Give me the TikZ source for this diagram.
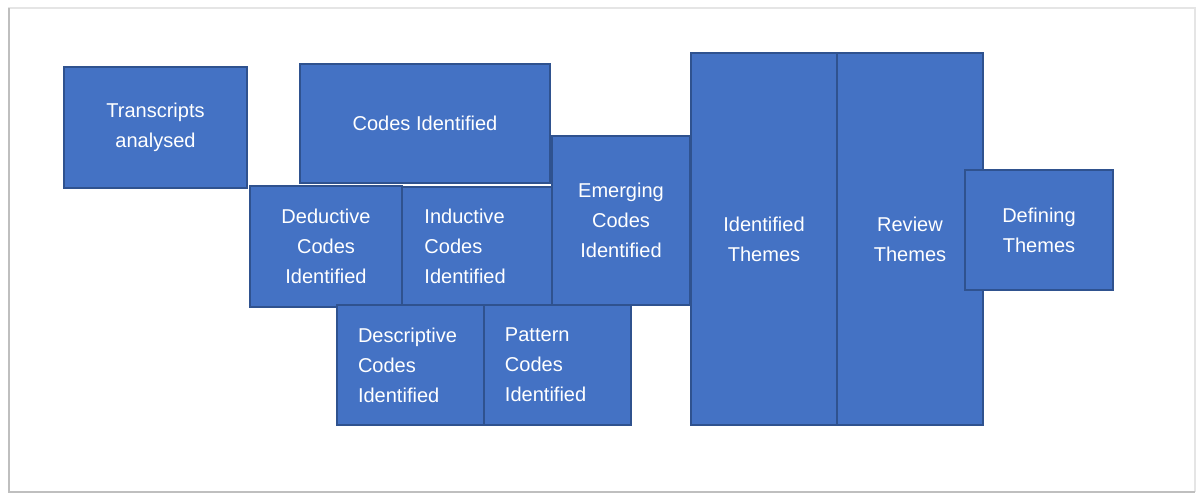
\documentclass[tikz,border=0pt]{standalone}
\usepackage{fontspec}
\setmainfont{Liberation Sans}
\usepackage{xcolor}
\usetikzlibrary{positioning}

\definecolor{stepfill}{HTML}{4472C4}
\definecolor{stepline}{HTML}{2F528F}

\begin{document}
\begin{tikzpicture}[
  x=0.02cm, y=-0.02cm,
  node distance=0cm,
  stepbox/.style={draw=stepline, fill=stepfill, line width=1.1pt, inner sep=0pt, outer sep=0pt, text=white, align=center,
    font=\fontsize{11.4}{17}\selectfont},
  leftbox/.style={stepbox, text width=2.1cm, align=left},
]
  \useasboundingbox (0,0) rectangle (1197,494);
  % frame round the figure
  \draw[black!10, line width=0.8pt] (9,492) -- (9,8) -- (1195,8) -- (1195,492);
  \draw[black!25, line width=1.2pt] (9,8) -- (9,492) -- (1195,492);

  % Row 1: transcripts and codes
  \node[stepbox, minimum width=3.66cm, minimum height=2.42cm] (trans) at (155.5,127.5) {Transcripts\\analysed};
  \node[stepbox, minimum width=5cm, minimum height=2.38cm] (codes) at (425,123.5) {Codes Identified};

  % Row 2: deductive, inductive, emerging
  \node[stepbox, minimum width=3.04cm, minimum height=2.42cm] (deduct) at (326,246.5) {Deductive\\Codes\\Identified};
  \node[leftbox, minimum width=3cm, minimum height=2.38cm, right=of deduct] (induct) {Inductive\\Codes\\Identified};
  \node[stepbox, minimum width=2.76cm, minimum height=3.38cm] (emerg) at (621,220.5) {Emerging\\Codes\\Identified};

  % Row 3: descriptive and pattern
  \node[leftbox, minimum width=2.94cm, minimum height=2.4cm] (descr) at (410.5,365) {Descriptive\\Codes\\Identified};
  \node[leftbox, minimum width=2.94cm, minimum height=2.4cm, right=of descr] (pattern) {Pattern\\Codes\\Identified};

  % Themes
  \node[stepbox, minimum width=2.92cm, minimum height=7.44cm] (idthemes) at (764,239) {Identified\\Themes};
  \node[stepbox, minimum width=2.92cm, minimum height=7.44cm, right=of idthemes] (review) {Review\\Themes};
  \node[stepbox, minimum width=2.96cm, minimum height=2.4cm] (defining) at (1039,230) {Defining\\Themes};
\end{tikzpicture}
\end{document}
